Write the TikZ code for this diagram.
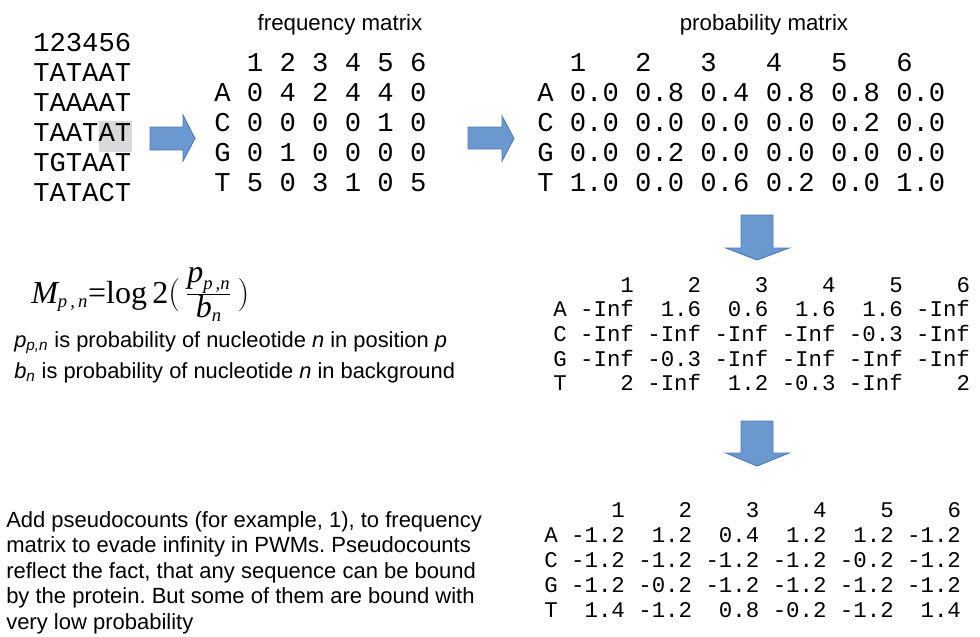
\documentclass[tikz,border=0pt]{standalone}
\usepackage[no-math]{fontspec}
\setmainfont{Liberation Sans}
\setmonofont{Liberation Mono}
\newfontfamily\timesface{Liberation Serif}
\usepackage{tikz}
\definecolor{ArrowBlue}{HTML}{6C98D0}
\definecolor{ArrowEdge}{HTML}{4E7BBF}
\definecolor{MarkGray}{HTML}{D9D9DB}
\tikzset{
  mono/.style={anchor=base west, inner sep=0pt, font=\fontsize{20.4}{24}\ttfamily},
  smallmono/.style={anchor=base west, inner sep=0pt, font=\fontsize{16.8}{20}\ttfamily},
  caption/.style={anchor=base, inner sep=0pt, font=\fontsize{16.7}{20}\selectfont},
  note/.style={anchor=base west, inner sep=0pt, font=\fontsize{16.4}{19}\selectfont\frenchspacing},
  blockarrow/.style={fill=ArrowBlue, draw=ArrowEdge, line width=0.7pt}
}
\newcommand{\subtxt}[1]{\mbox{\fontsize{14}{16}\selectfont\itshape #1}}

\begin{document}
\begin{tikzpicture}[x=0.75pt, y=-0.75pt]
  \useasboundingbox (0,0) rectangle (980,636);

  % highlighted motif letters
  \fill[MarkGray] (99,121) rectangle (132,152);

  % sequences
  \foreach \seq [count=\i from 0] in {123456, TATAAT, TAAAAT, TAATAT, TGTAAT, TATACT}
    \node[mono] (seq-\i) at (33, 51+30*\i) {\seq};

  % frequency matrix
  \node[caption] (freqtitle) at (340,30) {frequency matrix};
  \foreach \row [count=\i from 0] in {{~~1~2~3~4~5~6}, {A~0~4~2~4~4~0}, {C~0~0~0~0~1~0},
      {G~0~1~0~0~0~0}, {T~5~0~3~1~0~5}}
    \node[mono] (freq-\i) at (214, 71+30*\i) {\row};

  % probability matrix
  \node[caption] (probtitle) at (764,30) {probability matrix};
  \foreach \row [count=\i from 0] in {{~~1~~~2~~~3~~~4~~~5~~~6},
      {A~0.0~0.8~0.4~0.8~0.8~0.0}, {C~0.0~0.0~0.0~0.0~0.2~0.0},
      {G~0.0~0.2~0.0~0.0~0.0~0.0}, {T~1.0~0.0~0.6~0.2~0.0~1.0}}
    \node[mono] (prob-\i) at (537, 71+30*\i) {\row};

  % log odds
  \foreach \row [count=\i from 0] in {{~~~~~1~~~~2~~~~3~~~~4~~~~5~~~~6},
      {A~-Inf~~1.6~~0.6~~1.6~~1.6~-Inf}, {C~-Inf~-Inf~-Inf~-Inf~-0.3~-Inf},
      {G~-Inf~-0.3~-Inf~-Inf~-Inf~-Inf}, {T~~~~2~-Inf~~1.2~-0.3~-Inf~~~~2}}
    \node[smallmono] (lod-\i) at (553, 292+24.7*\i) {\row};

  % with pseudocounts
  \foreach \row [count=\i from 0] in {{~~~~~1~~~~2~~~~3~~~~4~~~~5~~~~6},
      {A~-1.2~~1.2~~0.4~~1.2~~1.2~-1.2}, {C~-1.2~-1.2~-1.2~-1.2~-0.2~-1.2},
      {G~-1.2~-0.2~-1.2~-1.2~-1.2~-1.2}, {T~~1.4~-1.2~~0.8~-0.2~-1.2~~1.4}}
    \node[smallmono] (pwm-\i) at (544, 517+25.2*\i) {\row};

  % block arrows
  \draw[blockarrow] (150,127) -- (183,127) -- (183,115) -- (195,138.5) -- (183,161) -- (183,150) -- (150,150) -- cycle;
  \draw[blockarrow] (468,127) -- (502,127) -- (502,116) -- (514,138.5) -- (502,161) -- (502,149) -- (468,149) -- cycle;
  \draw[blockarrow] (741,215) -- (773,215) -- (773,248) -- (789,248) -- (757,260) -- (726,248) -- (741,248) -- cycle;
  \draw[blockarrow] (741,421) -- (773,421) -- (773,453) -- (789,453) -- (757,466) -- (726,453) -- (741,453) -- cycle;

  % formula and its terms
  \node[anchor=base west, inner sep=0pt, font=\timesface\fontsize{24}{28}\selectfont] (formula) at (31,303)
    {$\mbox{\itshape M}_{\subtxt{p\,,\,n}}\mbox{=log\,2}\biggl(\,\frac{\mbox{\itshape p}_{\subtxt{p\,,n}}}{\mbox{\itshape b}_{\subtxt{n}}}\,\biggr)$};
  \node[note] (defp) at (14,347) {\itshape p\textsubscript{p,n}\upshape{} is probability of nucleotide \textit{n} in position \textit{p}};
  \node[note] (defb) at (14,378) {\itshape b\textsubscript{n}\upshape{} is probability of nucleotide \textit{n} in background};

  % pseudocount note
  \foreach \line [count=\i from 0] in {{Add pseudocounts (for example, 1), to frequency},
      {matrix to evade infinity in PWMs. Pseudocounts}, {reflect the fact, that any sequence can be bound},
      {by the protein. But some of them are bound with}, {very low probability}}
    \node[note, font=\fontsize{16.5}{19}\selectfont\frenchspacing] (pseudo-\i) at (6, 527+25.5*\i) {\line};
\end{tikzpicture}
\end{document}
